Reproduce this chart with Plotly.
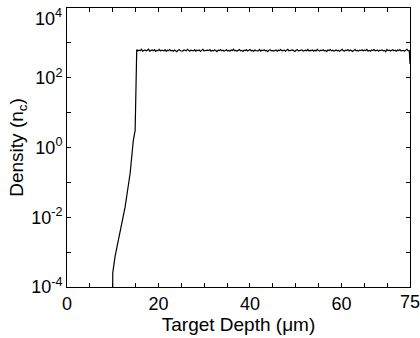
import plotly.graph_objects as go

# Rising front of the density profile (Target depth in um, density in n_c)
front_x = [10.0, 10.0, 10.5, 11.2, 12.7, 13.8, 14.5, 14.9, 15.1]
front_y = [1e-4, 2.5e-4, 7.4e-4, 2.2e-3, 1.95e-2, 0.18, 1.6, 3.1, 610]

# Plateau, sampled evenly from 15.25 to 74.85 um
plateau_y = [
    640, 585, 620, 600, 655, 575, 610, 630, 590, 615, 660, 580, 605, 625, 595, 640,
    570, 610, 600, 650, 585, 620, 605, 590, 635, 575, 615, 600, 645, 590, 610, 580,
    625, 600, 560, 615, 640, 595, 605, 585, 630, 610, 590, 655, 600, 575, 620, 605,
    590, 640, 580, 615, 600, 625, 570, 610, 650, 595, 605, 585, 620, 600, 640, 580,
    610, 595, 630, 605, 560, 620, 600, 645, 590, 615, 585, 605, 635, 595, 610, 575,
    625, 600, 655, 590, 605, 580, 615, 640, 595, 610, 570, 620, 600, 630, 585, 610,
    645, 590, 605, 575, 625, 600, 610, 590, 650, 580, 615, 600, 635, 595, 605, 560,
    620, 640, 590, 610, 585, 600, 630, 575, 615, 605, 645, 590, 600, 620, 580, 610,
    655, 595, 605, 585, 625, 600, 570, 615, 640, 590, 610, 600, 630, 580, 605, 620,
    595, 645, 585, 610, 600, 625, 575, 615, 590, 650, 605, 580, 620, 600, 635, 590,
    610, 560, 625, 605, 640, 595, 615, 585, 600, 630, 590, 610, 575, 620, 655, 600,
    585, 615, 605, 640, 590, 625, 600, 570, 610, 645, 595, 605, 580, 620, 600, 635,
    590, 615, 600, 650, 585, 610, 575, 625, 605, 640, 595, 600, 620, 580, 615, 605,
    630, 590, 610, 560, 645, 600, 620, 585, 605, 635, 595, 615, 575, 625, 600, 640,
    590, 610, 605, 580, 620, 655, 595, 600,
]
plateau_start, plateau_end = 15.25, 74.85
n_plateau = len(plateau_y)
plateau_x = [plateau_start + (plateau_end - plateau_start) * i / (n_plateau - 1)
             for i in range(n_plateau)]
end_x = [75.0]
end_y = [250]

x = front_x + plateau_x + end_x
y = front_y + plateau_y + end_y

y_tickvals = [1e-4, 1e-3, 1e-2, 1e-1, 1, 10, 100, 1e3, 1e4]
y_ticktext = ["10<sup>-4</sup>", "", "10<sup>-2</sup>", "", "10<sup>0</sup>", "",
              "10<sup>2</sup>", "", ""]
top_label = "10<sup>4</sup>"
x_tickvals = [0, 5, 10, 15, 20, 25, 30, 35, 40, 45, 50, 55, 60, 65, 70, 75]
x_ticktext = ["0", "", "", "", "20", "", "", "", "40", "", "", "", "60", "", "", ""]
right_label = "75"

fig = go.Figure()
fig.add_trace(go.Scatter(x=x, y=y, mode="lines",
                         line=dict(color="black", width=1.2), showlegend=False))

tick_font = dict(family="Liberation Sans, Arial, sans-serif", size=18, color="black")
title_font = dict(family="Liberation Sans, Arial, sans-serif", size=19, color="black")
fig.update_layout(
    width=420, height=338,
    margin=dict(l=67, r=10, t=8, b=51),
    paper_bgcolor="white", plot_bgcolor="white",
    font=tick_font,
)
fig.add_annotation(text=top_label, xref="paper", yref="paper", x=0, y=1,
                   xanchor="right", yanchor="top", xshift=-3, yshift=4,
                   showarrow=False, font=tick_font)
fig.add_annotation(text=right_label, xref="x", yref="paper", x=75, y=0,
                   xanchor="center", yanchor="top", yshift=-3,
                   showarrow=False, font=tick_font)
fig.update_xaxes(
    range=[0, 75], tickvals=x_tickvals, ticktext=x_ticktext,
    ticks="inside", ticklen=4, tickcolor="black",
    showline=True, linecolor="black", linewidth=1, mirror="ticks",
    showgrid=False, zeroline=False,
    title=dict(text="Target Depth (μm)", standoff=3, font=title_font),
    tickfont=tick_font,
)
fig.update_yaxes(
    type="log", range=[-4, 4], tickvals=y_tickvals, ticktext=y_ticktext,
    ticks="inside", ticklen=4, tickcolor="black",
    showline=True, linecolor="black", linewidth=1, mirror="ticks",
    showgrid=False, zeroline=False,
    title=dict(text="Density (n<sub>c</sub>)", standoff=2, font=title_font),
    tickfont=tick_font,
)

fig.write_html("out.html")
